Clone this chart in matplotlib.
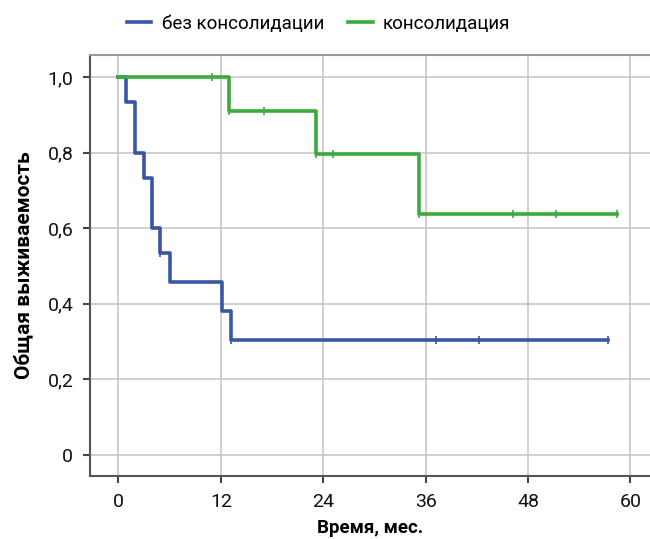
import matplotlib
matplotlib.use("Agg")
import matplotlib.pyplot as plt
from matplotlib.lines import Line2D

plt.rcParams['font.family'] = ['Roboto', 'DejaVu Sans']

# Data (Kaplan-Meier steps)
no_cons_times = [0, 0.9, 1.95, 2.95, 3.95, 4.9, 6.0, 12.1, 13.2, 57.4]
no_cons_surv = [1.0, 0.933, 0.800, 0.733, 0.600, 0.533, 0.457, 0.381, 0.305, 0.305]
no_cons_cens_t = [4.9, 13.2, 37.2, 42.2, 57.4]
no_cons_cens_s = [0.533, 0.305, 0.305, 0.305, 0.305]

cons_times = [0, 13.0, 23.1, 35.2, 58.4]
cons_surv = [1.0, 0.909, 0.795, 0.636, 0.636]
cons_cens_t = [11.0, 13.0, 17.1, 23.1, 25.1, 35.2, 46.3, 51.3, 58.4]
cons_cens_s = [1.0, 0.909, 0.909, 0.795, 0.795, 0.636, 0.636, 0.636, 0.636]

x_ticks = [0, 12, 24, 36, 48, 60]
y_ticks = [0, 0.2, 0.4, 0.6, 0.8, 1.0]
y_tick_labels = ["0", "0,2", "0,4", "0,6", "0,8", "1,0"]
labels = ["без консолидации", "консолидация"]
colors = ["#3a55a4", "#3aab3c"]

fig = plt.figure(figsize=(6.5, 5.39), dpi=100)
ax = fig.add_axes([90/650, (539-476)/539, 1 - 90/650, (476-55)/539])

ax.step(no_cons_times, no_cons_surv, where='post', color=colors[0], lw=2.6, zorder=3)
ax.plot(no_cons_cens_t, no_cons_cens_s, ls='none', marker='|', ms=6, mew=1.2, color=colors[0], zorder=3)
ax.step(cons_times, cons_surv, where='post', color=colors[1], lw=2.6, zorder=4)
ax.plot(cons_cens_t, cons_cens_s, ls='none', marker='|', ms=6, mew=1.2, color=colors[1], zorder=4)

ax.set_xlim(-3.34, 62.3)
ax.set_ylim(-0.056, 1.058)
ax.set_xticks(x_ticks)
ax.set_xticklabels([str(v) for v in x_ticks])
ax.set_yticks(y_ticks)
ax.set_yticklabels(y_tick_labels)
ax.grid(True, color="#c4c4c4", lw=1.1)
ax.set_axisbelow(True)

for s in ['left', 'bottom']:
    ax.spines[s].set_color("#555555")
    ax.spines[s].set_linewidth(1.5)
ax.spines['top'].set_color("#999999")
ax.spines['top'].set_linewidth(1.5)
ax.spines['right'].set_visible(False)
ax.tick_params(axis='both', direction='out', length=5, width=1.5, color="#444444",
               labelsize=14, labelcolor="#111111", pad=7)

ax.set_xlabel("Время, мес.", fontsize=13.5, fontweight='bold', labelpad=6)
ax.set_ylabel("Общая выживаемость", fontsize=15, fontweight='bold', labelpad=10)

handles = [Line2D([], [], color=c, lw=2.6) for c in colors]
fig.legend(handles, labels, loc='center left', bbox_to_anchor=(127/650, 1 - 24/539), ncol=2,
           frameon=False, fontsize=13.5, handlelength=1.3, columnspacing=1.3, handletextpad=0.55,
           borderpad=0, borderaxespad=0)

fig.savefig("out.png", dpi=100)
